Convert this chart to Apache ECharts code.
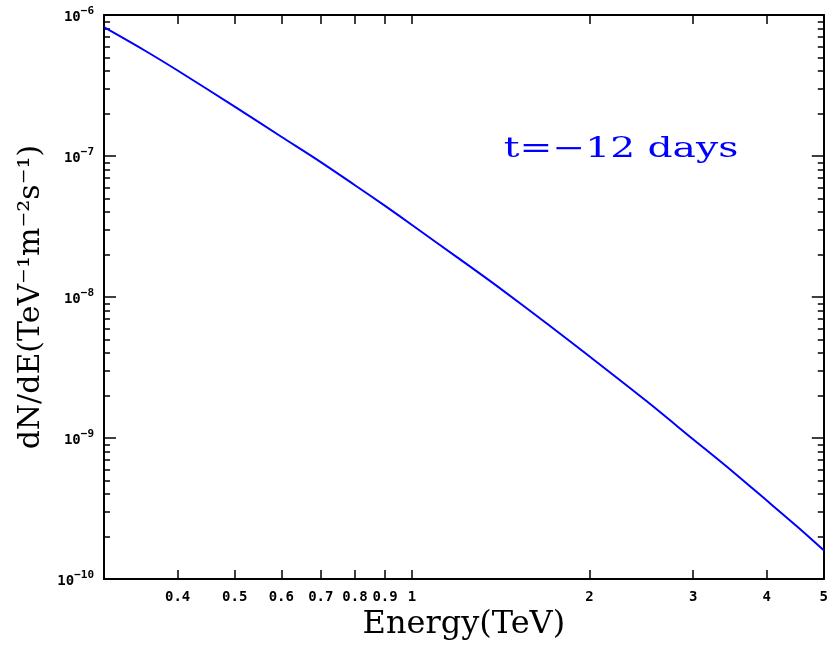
<!DOCTYPE html>
<html>
<head>
<meta charset="utf-8">
<script src="https://cdn.jsdelivr.net/npm/echarts@6/dist/echarts.min.js"></script>
<style>
html,body{margin:0;padding:0;background:#fff;}
#chart{width:831px;height:646px;}
</style>
</head>
<body>
<div id="chart"></div>
<script>
// Data
const energy = [0.3, 0.35, 0.4, 0.5, 0.6, 0.7, 0.8, 0.9, 1.0, 1.2, 1.4, 1.7, 2.0, 2.5, 3.0, 3.5, 4.0, 4.5, 5.0];
const flux = [8.20e-7, 5.67e-7, 4.04e-7, 2.24e-7, 1.37e-7, 9.06e-8, 6.21e-8, 4.43e-8, 3.24e-8, 1.88e-8, 1.18e-8, 6.41e-9, 3.80e-9, 1.83e-9, 9.81e-10, 5.80e-10, 3.61e-10, 2.37e-10, 1.60e-10];
const xTickValues = [0.4, 0.5, 0.6, 0.7, 0.8, 0.9, 1, 2, 3, 4, 5];
const yMajorTicks = [1e-10, 1e-9, 1e-8, 1e-7, 1e-6];
const yMinorMultipliers = [2, 3, 4, 5, 6, 7, 8, 9];
const seriesLabel = 't=\u221212 days';
const xTitle = 'Energy(TeV)';
const yTitle = 'dN/dE(TeV\u207B\u00B9m\u207B\u00B2s\u207B\u00B9)';

const yMinorTicks = [];
yMajorTicks.slice(0, -1).forEach(d => yMinorMultipliers.forEach(m => yMinorTicks.push(+(d * m).toPrecision(3))));

const points = energy.map((e, i) => [e, flux[i]]);

const chart = echarts.init(document.getElementById('chart'), null, {renderer: 'canvas'});
const black = '#000';
const xMin = 0.3, xMax = 5, yMin = 1e-10, yMax = 1e-6;

function baseX(pos, showLabel) {
  return {
    type: 'log', logBase: 10, position: pos, min: xMin, max: xMax,
    axisLine: {show: true, onZero: false, lineStyle: {color: black, width: 2}},
    axisTick: {show: true, inside: true, length: 9, customValues: xTickValues, lineStyle: {color: black, width: 1.5}},
    axisLabel: showLabel ? {
      show: true, customValues: xTickValues, margin: 11,
      fontFamily: 'DejaVu Sans Mono', fontWeight: 'bold', fontSize: 14, color: black,
      formatter: v => String(+v.toPrecision(3))
    } : {show: false},
    splitLine: {show: false}, minorTick: {show: false}, minorSplitLine: {show: false}
  };
}

function baseY(pos, major, showLabel, showLine) {
  return {
    type: 'log', logBase: 10, position: pos, min: yMin, max: yMax,
    axisLine: {show: showLine, onZero: false, lineStyle: {color: black, width: 2}},
    axisTick: {show: true, inside: true, length: major ? 12 : 6,
      customValues: major ? yMajorTicks : yMinorTicks, lineStyle: {color: black, width: 1.5}},
    axisLabel: showLabel ? {
      show: true, customValues: yMajorTicks, margin: 10,
      formatter: v => '{a|10}{b|\u2212' + (-Math.round(Math.log10(v))) + '}',
      rich: {
        a: {fontFamily: 'DejaVu Sans Mono', fontWeight: 'bold', fontSize: 14, color: black, verticalAlign: 'bottom', lineHeight: 18},
        b: {fontFamily: 'DejaVu Sans Mono', fontWeight: 'bold', fontSize: 11, color: black, verticalAlign: 'top', lineHeight: 18}
      }
    } : {show: false},
    splitLine: {show: false}, minorTick: {show: false}, minorSplitLine: {show: false}
  };
}

const xAxes = [baseX('bottom', true), baseX('top', false)];
xAxes[0].name = xTitle;
xAxes[0].nameLocation = 'middle';
xAxes[0].nameGap = 25;
xAxes[0].nameTextStyle = {fontFamily: 'DejaVu Serif', fontSize: 32, color: black};

const yAxes = [baseY('left', true, true, true), baseY('left', false, false, false),
               baseY('right', true, false, true), baseY('right', false, false, false)];
yAxes[0].name = yTitle;
yAxes[0].nameLocation = 'middle';
yAxes[0].nameRotate = 90;
yAxes[0].nameGap = 56;
yAxes[0].nameTextStyle = {fontFamily: 'DejaVu Serif', fontSize: 30, color: black};

chart.setOption({
  animation: false,
  backgroundColor: '#fff',
  grid: {left: 104, right: 4, top: 15, bottom: 61, containLabel: false},
  xAxis: xAxes,
  yAxis: yAxes,
  series: [{
    name: seriesLabel,
    type: 'line',
    xAxisIndex: 0, yAxisIndex: 0,
    data: points,
    showSymbol: false, symbol: 'none',
    smooth: 0.3,
    lineStyle: {color: '#0000ff', width: 2}
  }],
  graphic: [{
    type: 'text', x: 621, y: 150, scaleX: 1.4, scaleY: 1,
    style: {text: seriesLabel, fill: '#0000ff', fontFamily: 'DejaVu Serif', fontSize: 28,
            textAlign: 'center', textVerticalAlign: 'middle'}
  }]
});
</script>
</body>
</html>
